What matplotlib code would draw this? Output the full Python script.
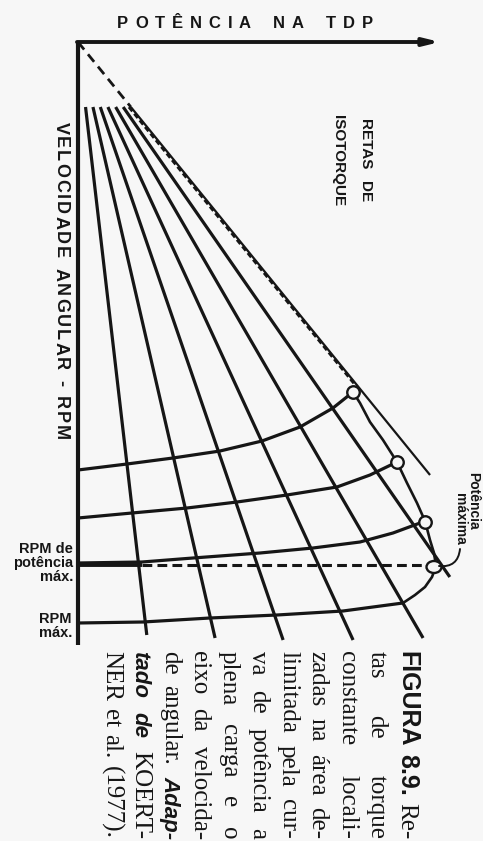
import matplotlib
matplotlib.use('Agg')
import matplotlib.pyplot as plt
import matplotlib.transforms as mtransforms
from matplotlib.font_manager import FontProperties
from matplotlib.patches import Ellipse
import numpy as np

W, H, DPI = 483, 841, 100
INK = '#161616'
BG = '#f7f7f7'

# ---------------- data (diagram units: power -> right, rpm -> down) ----------------
power_axis_len = 362
rpm_axis_len = 603

torque_slopes = [0.116, 0.230, 0.343, 0.460, 0.579, 0.695, 0.813]  # P/N of each isotorque line
ray_start_rpm = 65
ray_end_rpm = [593, 596, 598, 598, 596, 535, 433]

part1_P = [0, 49, 95, 142, 184, 222, 255, 275]
part1_N = [428, 422, 416, 409, 399, 385, 366, 350]
part2_P = [0, 54, 109, 159, 209, 259, 292, 319]
part2_N = [476, 471, 466, 460, 453, 445, 433, 420]
part3_P = [0, 64, 115, 182, 235, 282, 315, 342]
part3_N = [521, 520, 516, 511, 506, 500, 491, 481]
rpmmax_P = [0, 65, 132, 199, 265, 325]
rpmmax_N = [581, 580, 576, 573, 569, 561]

full_upper_P = [51, 279]
full_upper_N = [65, 345]
full_lower_P = [275, 282, 292, 305, 319, 329, 339, 347, 352, 356, 358, 354, 347, 337, 325]
full_lower_N = [350, 361, 380, 398, 420, 441, 461, 479, 498, 511, 524, 535, 545, 553, 561]

op_P = [275, 319, 347]
op_N = [350, 420, 480]
maxpow_P, maxpow_N = 356, 525
rpm_maxpow_N = 523
rpm_maxpow_solid_end = 64

caption_lines = [
    [("FIGURA", 'b'), ("8.9.", 'b'), ("Re-", 'r')],
    [("tas", 'r'), ("de", 'r'), ("torque", 'r')],
    [("constante", 'r'), ("locali-", 'r')],
    [("zadas", 'r'), ("na", 'r'), ("área", 'r'), ("de-", 'r')],
    [("limitada", 'r'), ("pela", 'r'), ("cur-", 'r')],
    [("va", 'r'), ("de", 'r'), ("potência", 'r'), ("a", 'r')],
    [("plena", 'r'), ("carga", 'r'), ("e", 'r'), ("o", 'r')],
    [("eixo", 'r'), ("da", 'r'), ("velocida-", 'r')],
    [("de", 'r'), ("angular.", 'r'), ("Adap-", 'i')],
    [("tado", 'i'), ("de", 'i'), ("KOERT-", 'r')],
    [("NER", 'r'), ("et", 'r'), ("al.", 'r'), ("(1977).", 'r')],
]

# ---------------- figure ----------------
fig = plt.figure(figsize=(W / DPI, H / DPI), dpi=DPI, facecolor=BG)
ax = fig.add_axes([0, 0, 1, 1])
ax.set_xlim(0, W)
ax.set_ylim(H, 0)
ax.axis('off')
ax.set_facecolor(BG)
renderer = fig.canvas.get_renderer()

X0, Y0 = 78, 42
tr = mtransforms.Affine2D().translate(X0, Y0) + ax.transData


def ink_width(s, fp):
    w, h, d = renderer.get_text_width_height_descent(s, fp, ismath=False)
    return w


def tracked(text, start, end, fixed, fp, word_factor, vertical):
    words = text.split()
    widths = [[ink_width(c, fp) for c in w] for w in words]
    total = sum(sum(ws) for ws in widths)
    n_lg = sum(len(w) - 1 for w in words)
    n_wg = len(words) - 1
    gap = (end - start - total) / (n_lg + word_factor * n_wg)
    pos = start
    for w, ws in zip(words, widths):
        for c, cw in zip(w, ws):
            if vertical:
                ax.text(fixed, pos, c, fontproperties=fp, rotation=-90,
                        rotation_mode='anchor', ha='left', va='baseline', color=INK)
            else:
                ax.text(pos, fixed, c, fontproperties=fp, ha='left',
                        va='baseline', color=INK)
            pos += cw + gap
        pos += gap * (word_factor - 1)


def vtext(x, y, s, fp):
    ax.text(x, y, s, fontproperties=fp, rotation=-90, rotation_mode='anchor',
            ha='left', va='baseline', color=INK)


LW = 2.3
# axes
ax.plot([0, 0], [0, rpm_axis_len], transform=tr, color=INK, lw=3.0,
        solid_capstyle='butt')
ax.annotate('', xy=(power_axis_len, 0), xytext=(-1, 0), xycoords=tr, textcoords=tr,
            arrowprops=dict(arrowstyle='-|>,head_length=0.9,head_width=0.22',
                            lw=2.8, color=INK, shrinkA=0, shrinkB=0))

# isotorque lines
for i, (k, end) in enumerate(zip(torque_slopes, ray_end_rpm)):
    N = np.array([ray_start_rpm, end])
    last = i == len(torque_slopes) - 1
    ax.plot(k * N, N, transform=tr, color=INK, lw=1.6 if last else LW,
            solid_capstyle='butt')
    if last:
        N0 = np.array([0, ray_start_rpm])
        ax.plot(k * N0, N0, transform=tr, color=INK, lw=2.0, dashes=(3.5, 2.2))

# partial-load curves
for P, N in [(part1_P, part1_N), (part2_P, part2_N), (part3_P, part3_N),
             (rpmmax_P, rpmmax_N)]:
    ax.plot(P, N, transform=tr, color=INK, lw=LW, solid_capstyle='round')

# rpm at maximum power
ax.plot([0, rpm_maxpow_solid_end], [rpm_maxpow_N, rpm_maxpow_N], transform=tr,
        color=INK, lw=2.8, solid_capstyle='butt')
ax.plot([rpm_maxpow_solid_end, maxpow_P - 7], [rpm_maxpow_N, rpm_maxpow_N], transform=tr,
        color=INK, lw=2.2, dashes=(3.2, 1.7))

# full-load power curve
ax.plot(full_upper_P, full_upper_N, transform=tr, color=INK, lw=2.2, dashes=(1.8, 1.0))
ax.plot(full_lower_P, full_lower_N, transform=tr, color=INK, lw=1.9)

# operating points
ax.plot(op_P, op_N, 'o', transform=tr, ms=9, mfc=BG, mec=INK, mew=1.7)
ax.add_patch(Ellipse((maxpow_P, maxpow_N), 15, 12, transform=tr, fc=BG, ec=INK, lw=1.7,
                     zorder=3))

# ---------------- texts ----------------
fp_title = FontProperties(family='Liberation Sans', weight='bold', size=12)
tracked("POTÊNCIA NA TDP", 117, 373, 28, fp_title, 3.2, vertical=False)

fp_vel = FontProperties(family='Liberation Sans', weight='bold', size=13)
tracked("VELOCIDADE ANGULAR - RPM", 122, 440, 56, fp_vel, 5.0, vertical=True)

fp_ret = FontProperties(family='Liberation Sans', weight='bold', size=11)
vtext(361, 119, "RETAS", fp_ret)
vtext(361, 181, "DE", fp_ret)
vtext(334, 115, "ISOTORQUE", fp_ret)

fp_lab = FontProperties(family='Liberation Sans', weight='bold', size=10.5)
ax.text(73, 563, "RPM de\npotência\nmáx.", fontproperties=fp_lab, ha='right',
        va='center', multialignment='right', linespacing=1.0, color=INK)
ax.text(72, 626, "RPM\nmáx.", fontproperties=fp_lab, ha='right',
        va='center', multialignment='right', linespacing=1.0, color=INK)

fp_pm = FontProperties(family='Liberation Sans', weight='bold', size=10)
vtext(469, 472, "Potência", fp_pm)
vtext(456, 493, "máxima", fp_pm)
ax.annotate('', xy=(maxpow_P + 5, maxpow_N - 1), xytext=(382, 507),
            xycoords=tr, textcoords=tr,
            arrowprops=dict(arrowstyle='-', lw=1.4, color=INK, shrinkA=0, shrinkB=0,
                            connectionstyle='arc3,rad=-0.5'))

# caption (justified columns, reading top to bottom)
fonts = {
    'r': FontProperties(family='Liberation Serif', size=18),
    'b': FontProperties(family='Liberation Sans', weight='bold', size=18),
    'i': FontProperties(family='Liberation Sans', weight='bold', style='italic', size=16),
}
cap_start, cap_end = 651, 839
for li, words in enumerate(caption_lines):
    base_x = 400 - 29.5 * li
    widths = [ink_width(w, fonts[s]) for w, s in words]
    gap = (cap_end - cap_start - sum(widths)) / (len(words) - 1)
    pos = cap_start
    for (w, s), wd in zip(words, widths):
        vtext(base_x, pos, w, fonts[s])
        pos += wd + gap

fig.savefig('out.png', dpi=DPI, facecolor=BG)
